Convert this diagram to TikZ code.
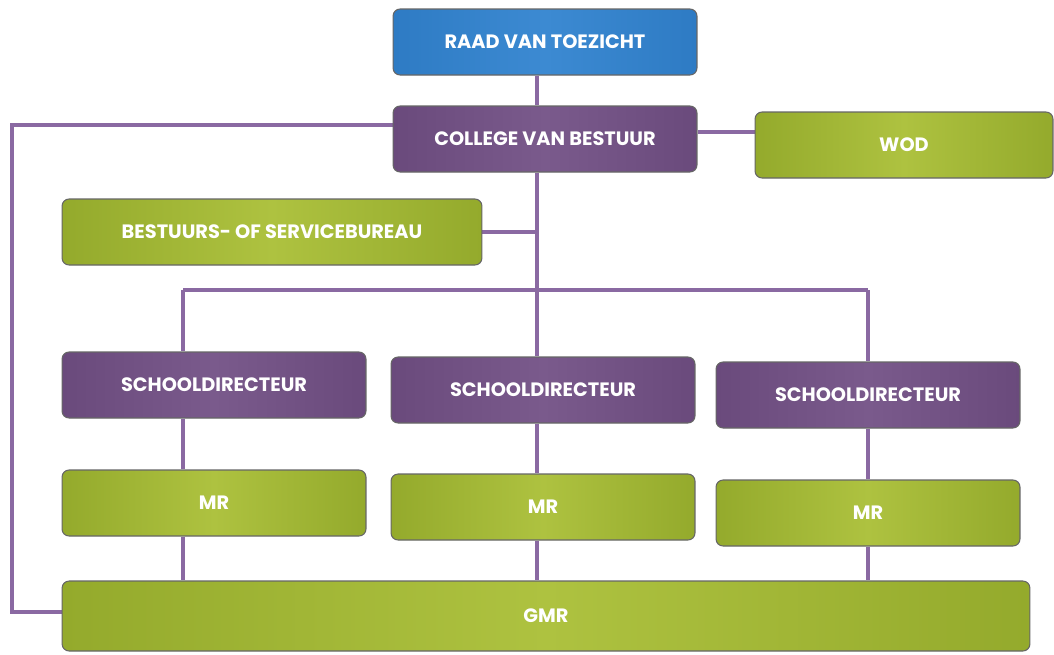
\documentclass[tikz,border=0pt]{standalone}
\usepackage{fontspec}
\setmainfont{Poppins}
\usetikzlibrary{calc,backgrounds}
\definecolor{rvtblue}{HTML}{2E7BC4}
\definecolor{rvtbluelt}{HTML}{3C8AD2}
\definecolor{boxpurple}{HTML}{6A4A7C}
\definecolor{boxpurplelt}{HTML}{7A5A8C}
\definecolor{boxgreen}{HTML}{94AA2C}
\definecolor{boxgreenlt}{HTML}{AEC240}
\definecolor{linkpurple}{HTML}{8A69A2}
\begin{document}
\begin{tikzpicture}[x=0.02cm,y=-0.02cm]
\tikzset{
  box/.style={draw=black!60, line width=0.6pt, rounded corners=4pt, text=white,
    font=\bfseries\fontsize{11}{13}\selectfont, inner sep=0pt, minimum width=6.08cm, minimum height=1.32cm},
  rvtbox/.style={box, left color=rvtblue, right color=rvtblue, middle color=rvtbluelt},
  purplebox/.style={box, left color=boxpurple, right color=boxpurple, middle color=boxpurplelt},
  greenbox/.style={box, left color=boxgreen, right color=boxgreen, middle color=boxgreenlt},
  link/.style={draw=linkpurple, line width=2.6pt}
}
\useasboundingbox (0,0) rectangle (1054,654);
\node[rvtbox] (rvt) at (545,42) {RAAD VAN TOEZICHT};
\node[purplebox] (cvb) at (545,139) {COLLEGE VAN BESTUUR};
\node[greenbox, minimum width=5.96cm] (wod) at (904,145) {WOD};
\node[greenbox, minimum width=8.4cm] (bsb) at (272,232) {BESTUURS- OF SERVICEBUREAU};
\node[purplebox] (sd1) at (214,385) {SCHOOLDIRECTEUR};
\node[purplebox] (sd2) at (543,390) {SCHOOLDIRECTEUR};
\node[purplebox] (sd3) at (868,395) {SCHOOLDIRECTEUR};
\node[greenbox] (mr1) at (214,503) {MR};
\node[greenbox] (mr2) at (543,507) {MR};
\node[greenbox] (mr3) at (868,513) {MR};
\node[greenbox, minimum width=19.36cm, minimum height=1.4cm] (gmr) at (546,616) {GMR};
\coordinate (tk) at (537,290);
\coordinate (hl) at (183,290);
\coordinate (hr) at (868,290);
\coordinate (lx) at (12,290);
\begin{scope}[on background layer]
  \draw[link] (rvt.south -| tk) -- (cvb.north -| tk);
  \draw[link] (cvb.south -| tk) -- (tk);
  \draw[link] (bsb.east) -- (bsb.east -| tk);
  \draw[link] (hl) -- (hr);
  \draw[link] (hl) -- (sd1.north -| hl);
  \draw[link] (tk) -- (sd2.north -| tk);
  \draw[link] (hr) -- (sd3.north -| hr);
  \draw[link] (sd1.south -| hl) -- (mr1.north -| hl);
  \draw[link] (sd2.south -| tk) -- (mr2.north -| tk);
  \draw[link] (sd3.south -| hr) -- (mr3.north -| hr);
  \draw[link] (mr1.south -| hl) -- (gmr.north -| hl);
  \draw[link] (mr2.south -| tk) -- (gmr.north -| tk);
  \draw[link] (mr3.south -| hr) -- (gmr.north -| hr);
  \draw[link] ($(cvb.west)+(0,-14)$) coordinate (cl) -- (cl -| lx) |- ($(gmr.west)+(0,-4)$);
  \draw[link] ($(cvb.east)+(0,-7)$) coordinate (cr) -- (cr -| wod.west);
\end{scope}
\end{tikzpicture}
\end{document}
